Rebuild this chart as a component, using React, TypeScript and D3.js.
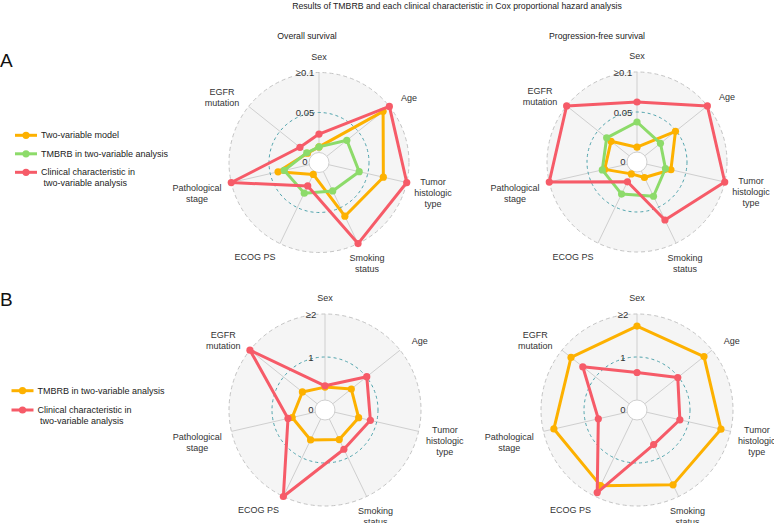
import React from "react";
import * as d3 from "d3";

const CATEGORIES = ["Sex", "Age", "Tumor histologic type", "Smoking status", "ECOG PS", "Pathological stage", "EGFR mutation"];
const CATEGORY_LINES = [["Sex"], ["Age"], ["Tumor", "histologic", "type"], ["Smoking", "status"], ["ECOG PS"], ["Pathological", "stage"], ["EGFR", "mutation"]];

// Panel A: p values (capped at 0.1)
const OS_P_TWO_VAR = [0.007, 0.09, 0.07, 0.062, 0.004, 0.04, 0.006];
const OS_P_TMBRB = [0.007, 0.032, 0.039, 0.027, 0.03, 0.032, 0.007];
const OS_P_CLIN = [0.023, 0.1, 0.1, 0.1, 0.02, 0.1, 0.018];
const PFS_P_TWO_VAR = [0.006, 0.049, 0.031, 0.009, 0.004, 0.029, 0.029];
const PFS_P_TMBRB = [0.0375, 0.025, 0.024, 0.035, 0.032, 0.032, 0.036];
const PFS_P_CLIN = [0.0625, 0.1, 0.1, 0.068, 0.015, 0.1, 0.1];

// Panel B: hazard ratios (capped at 2)
const OS_HR_TMBRB = [0.3, 0.55, 0.57, 0.53, 0.54, 0.55, 0.44];
const OS_HR_CLIN = [0.33, 1.01, 0.85, 0.78, 2.0, 0.65, 2.0];
const PFS_HR_TMBRB = [1.72, 1.76, 1.77, 1.7, 1.72, 1.75, 1.73];
const PFS_HR_CLIN = [0.64, 0.98, 0.79, 0.66, 1.9, 0.69, 1.38];

const P_TICKS = ["0", "0.05", "≥0.1"];
const HR_TICKS = ["0", "1", "≥2"];

const TITLE = "Results of TMBRB and each clinical characteristic in Cox proportional hazard analysis";
const SUBTITLES = ["Overall survival", "Progression-free survival"];
const LEGEND_A = ["Two-variable model", "TMBRB in two-variable analysis", "Clinical characteristic in|two-variable analysis"];
const LEGEND_B = ["TMBRB in two-variable analysis", "Clinical characteristic in|two-variable analysis"];

const ORANGE = "#FDB100";
const GREEN = "#8DDB6A";
const RED = "#F65B68";
const FONT = "Liberation Sans, Arial, sans-serif";

// label offsets (for R=90) relative to centre
const LABEL_OFFSETS = [
  [0, -106],
  [90, -65],
  [114, 30],
  [48, 101],
  [-64, 94.5],
  [-122, 31],
  [-97, -65.5],
];

type Series = { values: number[]; color: string };

function Radar({ cx, cy, R, max, ticks, series }: { cx: number; cy: number; R: number; max: number; ticks: string[]; series: Series[] }) {
  const r0 = 10;
  const n = CATEGORIES.length;
  const rScale = d3.scaleLinear().domain([0, max]).range([r0, R]).clamp(true);
  const angle = (i: number) => (i * 2 * Math.PI) / n;
  const line = d3
    .lineRadial<number>()
    .angle((_, i) => angle(i))
    .radius((v) => rScale(v))
    .curve(d3.curveLinearClosed);
  const pt = (i: number, v: number) => {
    const a = angle(i);
    const r = rScale(v);
    return [Math.sin(a) * r, -Math.cos(a) * r];
  };
  const extra = R - 90;
  return (
    <g transform={`translate(${cx},${cy})`}>
      <circle r={R} fill="#F5F5F5" stroke="#C4C4C4" strokeWidth={1} strokeDasharray="4,3" />
      {CATEGORIES.map((c, i) => {
        const a = angle(i);
        return (
          <line key={c} x1={Math.sin(a) * r0} y1={-Math.cos(a) * r0} x2={Math.sin(a) * R} y2={-Math.cos(a) * R} stroke="#CFCFCF" strokeWidth={1} />
        );
      })}
      <circle r={rScale(max / 2)} fill="none" stroke="#4FA3AC" strokeWidth={1} strokeDasharray="3,3" />
      <circle r={r0} fill="#FFFFFF" stroke="#D0D0D0" strokeWidth={1} />
      {series.map((s, si) => (
        <g key={si}>
          <path d={line(s.values) || ""} fill="none" stroke={s.color} strokeWidth={3} strokeLinejoin="round" />
          {s.values.map((v, i) => {
            const [x, y] = pt(i, v);
            return <circle key={i} cx={x} cy={y} r={3.6} fill={s.color} />;
          })}
        </g>
      ))}
      {ticks.map((t, i) => {
        const v = (i * max) / 2;
        const y = i === 0 ? -1 : -rScale(v);
        return (
          <text key={t} x={-14} y={y} textAnchor="middle" dominantBaseline="central" fontSize={9.5} fill="#333" fontFamily={FONT}>
            {t}
          </text>
        );
      })}
      {CATEGORY_LINES.map((lines, i) => {
        const a = angle(i);
        const ox = LABEL_OFFSETS[i][0] + Math.sin(a) * extra;
        const oy = LABEL_OFFSETS[i][1] - Math.cos(a) * extra;
        const lh = 11;
        const y0 = oy - ((lines.length - 1) * lh) / 2;
        return (
          <text key={i} textAnchor="middle" fontSize={9} fill="#333" fontFamily={FONT}>
            {lines.map((l, j) => (
              <tspan key={j} x={ox} y={y0 + j * lh} dominantBaseline="central">
                {l}
              </tspan>
            ))}
          </text>
        );
      })}
    </g>
  );
}

function Legend({ x, y, items, colors, gap }: { x: number; y: number; items: string[]; colors: string[]; gap: number }) {
  return (
    <g>
      {items.map((it, i) => {
        const yy = y + i * gap;
        const parts = it.split("|");
        return (
          <g key={i}>
            <line x1={x} x2={x + 22} y1={yy} y2={yy} stroke={colors[i]} strokeWidth={3} />
            <circle cx={x + 11} cy={yy} r={3.6} fill={colors[i]} />
            {parts.map((p, j) => (
              <text key={j} x={x + 26 + (j > 0 ? 2.5 : 0)} y={yy + j * 11} dominantBaseline="central" fontSize={9} fill="#222" fontFamily={FONT}>
                {p}
              </text>
            ))}
          </g>
        );
      })}
    </g>
  );
}

export default function App() {
  return (
    <svg width={774} height={523} style={{ position: "absolute", left: 0, top: 0, background: "#fff" }}>
      <rect width={774} height={523} fill="#fff" />
      <text x={457} y={6} textAnchor="middle" dominantBaseline="central" fontSize={8.7} fill="#222" fontFamily={FONT}>
        {TITLE}
      </text>
      <text x={307} y={36} textAnchor="middle" dominantBaseline="central" fontSize={8.7} fill="#222" fontFamily={FONT}>
        {SUBTITLES[0]}
      </text>
      <text x={597} y={36} textAnchor="middle" dominantBaseline="central" fontSize={8.7} fill="#222" fontFamily={FONT}>
        {SUBTITLES[1]}
      </text>
      <text x={0} y={67} fontSize={19} fill="#111" fontFamily={FONT}>A</text>
      <text x={0} y={306} fontSize={19} fill="#111" fontFamily={FONT}>B</text>

      <Legend x={15} y={135.3} items={LEGEND_A} colors={[ORANGE, GREEN, RED]} gap={18.5} />
      <Legend x={11.5} y={390.7} items={LEGEND_B} colors={[ORANGE, RED]} gap={19.3} />

      <Radar cx={319} cy={162.5} R={90} max={0.1} ticks={P_TICKS}
        series={[{ values: OS_P_TWO_VAR, color: ORANGE }, { values: OS_P_TMBRB, color: GREEN }, { values: OS_P_CLIN, color: RED }]} />
      <Radar cx={637} cy={162} R={90} max={0.1} ticks={P_TICKS}
        series={[{ values: PFS_P_TWO_VAR, color: ORANGE }, { values: PFS_P_TMBRB, color: GREEN }, { values: PFS_P_CLIN, color: RED }]} />
      <Radar cx={325} cy={410} R={96} max={2} ticks={HR_TICKS}
        series={[{ values: OS_HR_TMBRB, color: ORANGE }, { values: OS_HR_CLIN, color: RED }]} />
      <Radar cx={637} cy={410} R={96} max={2} ticks={HR_TICKS}
        series={[{ values: PFS_HR_TMBRB, color: ORANGE }, { values: PFS_HR_CLIN, color: RED }]} />
    </svg>
  );
}
